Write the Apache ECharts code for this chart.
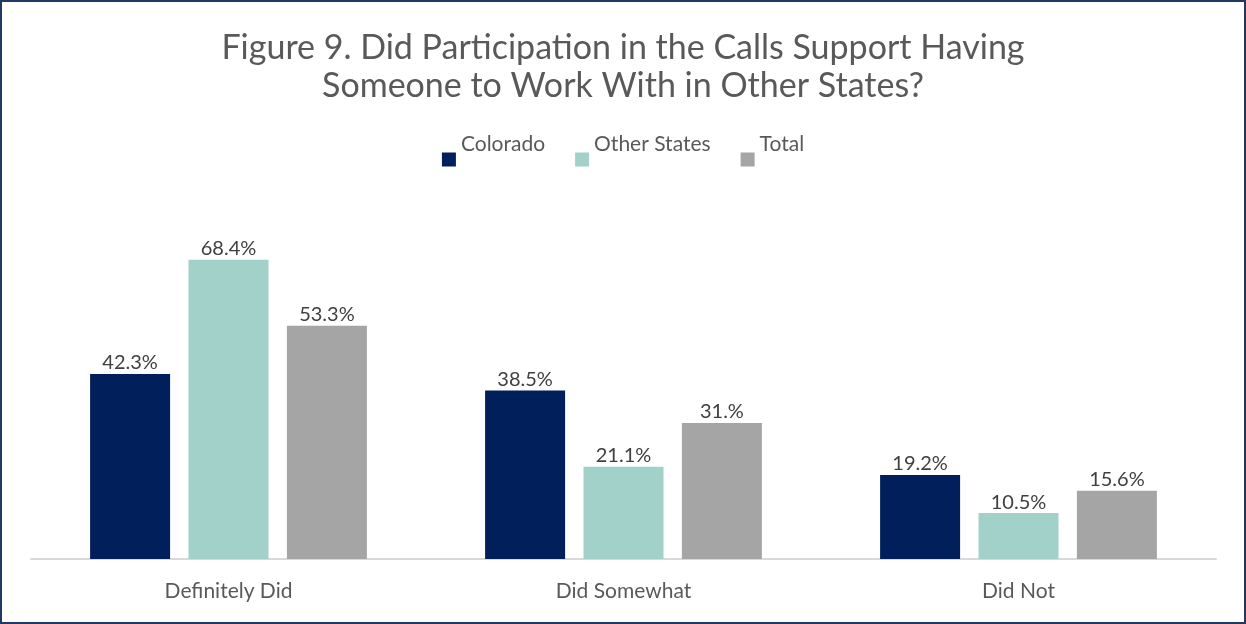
<!DOCTYPE html>
<html><head><meta charset="utf-8">
<script src="https://cdn.jsdelivr.net/npm/echarts@6/dist/echarts.min.js"></script>
<style>
html,body{margin:0;padding:0;background:#fff;}
#frame{position:absolute;left:0;top:0;width:1242px;height:620px;border:2px solid #1f3864;}
#c{position:absolute;left:0;top:0;width:1246px;height:624px;}
</style></head>
<body>
<div id="c"></div>
<div id="frame"></div>
<script>
var categories = ['Definitely Did', 'Did Somewhat', 'Did Not'];
var seriesNames = ['Colorado', 'Other States', 'Total'];
var colorado = [42.3, 38.5, 19.2];
var otherStates = [68.4, 21.1, 10.5];
var total = [53.3, 31.1, 15.6];
var coloradoLabels = ['42.3%', '38.5%', '19.2%'];
var otherStatesLabels = ['68.4%', '21.1%', '10.5%'];
var totalLabels = ['53.3%', '31.%', '15.6%'];
var colors = ['#001f5b', '#a1d1c9', '#a5a5a5'];

var FONT = 'Lato, "Open Sans", sans-serif';
function mk(name, data, labels, color) {
  return {
    name: name, type: 'bar', data: data, barWidth: 80, barGap: '23%',
    itemStyle: {color: color},
    label: {show: true, position: 'top', distance: 1, color: '#404040', fontSize: 20, fontFamily: FONT,
      formatter: function (p) { return labels[p.dataIndex]; }}
  };
}
var chart = echarts.init(document.getElementById('c'));
chart.setOption({
  animation: false,
  title: {text: 'Figure 9. Did Participation in the Calls Support Having\nSomeone to Work With in Other States?',
    left: 'center', top: 24,
    textStyle: {fontSize: 34, fontWeight: 'normal', color: '#595959', fontFamily: FONT, lineHeight: 38, align: 'center'}},
  legend: {data: seriesNames, top: 129, left: 'center', itemWidth: 14, itemHeight: 14, itemGap: 30,
    icon: 'rect',
    formatter: '{a|{name}}',
    textStyle: {fontSize: 21, color: '#595959', fontFamily: FONT,
      rich: {a: {fontSize: 21, color: '#595959', fontFamily: FONT, padding: [0, 0, 30, 0]}}}},
  grid: {left: 31, right: 30, top: 209, bottom: 65},
  xAxis: {type: 'category', data: categories,
    axisLine: {lineStyle: {color: '#d9d9d9', width: 2}}, axisTick: {show: false},
    axisLabel: {fontSize: 21, color: '#595959', fontFamily: FONT, margin: 22}},
  yAxis: {type: 'value', min: 0, max: 80, interval: 10, show: false, splitLine: {show: false}},
  series: [mk(seriesNames[0], colorado, coloradoLabels, colors[0]),
           mk(seriesNames[1], otherStates, otherStatesLabels, colors[1]),
           mk(seriesNames[2], total, totalLabels, colors[2])]
});
</script>
</body></html>
